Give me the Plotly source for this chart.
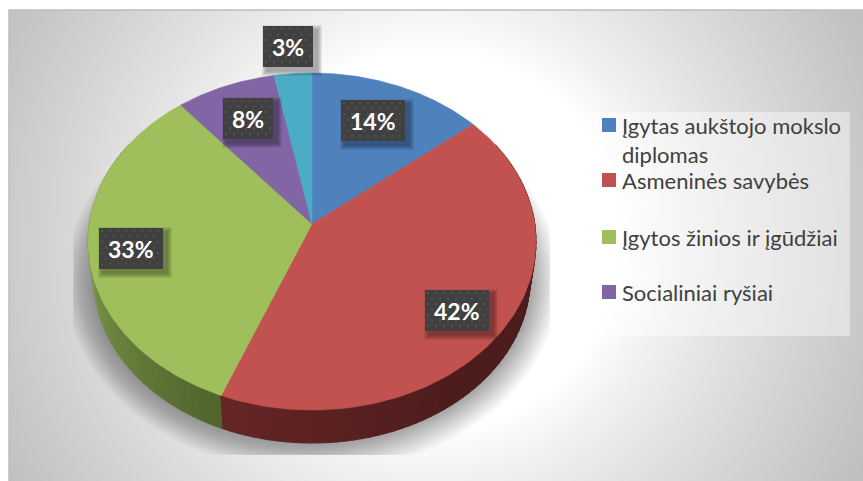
import numpy as np
import plotly.graph_objects as go

# chart values
categories = ["Įgytas aukštojo mokslo<br>diplomas", "Asmeninės savybės", "Įgytos žinios ir įgūdžiai", "Socialiniai ryšiai"]
values = [14, 42, 33, 8, 3]
percent_labels = ["14%", "42%", "33%", "8%", "3%"]

# styles and placement
slice_colors = ["#4f81bd", "#c25250", "#9fbe5c", "#8265a4", "#4bacc6"]
label_boxes = [(341, 405, 100, 141), (425, 489, 290, 331), (99, 163, 228, 269), (223, 273, 98, 139), (263, 313, 26, 67)]
legend_rows = [126, 181, 238, 293]
W, H = 863, 481
APEX_X, APEX_Y = 312, 224
A, B, K = 222.8, 166.7, 0.104  # tilted disc: half axes and perspective
DEPTH_Y, DEPTH_S = 262, 0.973  # lower rim of the disc


def top_rim(deg):
    t = np.radians(deg)
    d = 1 + K * np.cos(t)
    return A * np.sin(t) / d, -B * np.cos(t) / d


def poly(x, y, color, line=0):
    return go.Scatter(x=x, y=y, mode="lines", fill="toself", fillcolor=color,
                      line=dict(color=color, width=line), hoverinfo="skip", showlegend=False)


def rect(x0, x1, y0, y1, color):
    return poly([x0, x1, x1, x0, x0], [y0, y0, y1, y1, y0], color)


def mix(c1, c2, f):
    return "rgb(%d,%d,%d)" % tuple(a + (b - a) * f for a, b in zip(c1, c2))


fig = go.Figure()

# background gradient, cell centres sit half a cell inside the frame
gx = np.arange(12, W + 6, 6)
gy = np.arange(13, H + 6, 6)
xx, yy = np.meshgrid(gx, gy)
rr = np.hypot(xx - 430, yy - 240)
z = 255 - 64 * (np.clip(rr - 190, 0, None) / 300) ** 0.85
fig.add_trace(go.Heatmap(x=gx, y=gy, z=z, zmin=0, zmax=255, zsmooth="best", showscale=False, hoverinfo="skip",
                         colorscale=[[0, "#000000"], [1, "#ffffff"]]))
fig.add_trace(go.Scatter(x=[9, 9, W], y=[H, 10, 10], mode="lines", line=dict(color="#bdbdbd", width=1.5),
                         hoverinfo="skip", showlegend=False))

# soft shadow below the disc, cut off by its box
th = np.linspace(0, 2 * np.pi, 181)
for d in range(30, 0, -1):
    sx = np.clip(312 + (218 + d) * np.cos(th), 73, 550)
    sy = np.clip(280 + (163 + d) * np.sin(th), 0, 455)
    fig.add_trace(poly(sx, sy, "rgba(0,0,0,0.012)"))

# side wall of the disc
edges = np.cumsum([0] + values) * 3.6
for a in np.arange(60, 300, 2.0):
    mid = a + 1
    if mid < edges[2]:
        f = np.clip((edges[2] - mid) / 60, 0, 1)
        col = mix((102, 38, 38), (77, 28, 28), f)
    else:
        f = np.clip((mid - edges[2]) / 68, 0, 1)
        col = mix((80, 100, 44), (130, 158, 80), f)
    ang = np.array([a, a + 2.2])
    tx, ty = top_rim(ang)
    xs = np.r_[APEX_X + tx, APEX_X + DEPTH_S * tx[::-1]]
    ys = np.r_[APEX_Y + ty, DEPTH_Y + DEPTH_S * ty[::-1]]
    fig.add_trace(poly(np.r_[xs, xs[0]], np.r_[ys, ys[0]], col, line=1))

# top of the disc
for i, color in enumerate(slice_colors):
    ang = np.linspace(edges[i], edges[i + 1], 120)
    tx, ty = top_rim(ang)
    fig.add_trace(poly(np.r_[APEX_X, APEX_X + tx, APEX_X], np.r_[APEX_Y, APEX_Y + ty, APEX_Y], color, line=0.5))

# legend panel and swatches
fig.add_trace(rect(594, 850, 112, 336, "rgba(255,255,255,0.42)"))
for row, color in zip(legend_rows, slice_colors):
    fig.add_trace(rect(602, 616, row - 8, row + 6, color))

# data labels: shadow, box, dotted texture
dots_x, dots_y = [], []
for box in label_boxes:
    x0, x1, y0, y1 = box
    for s in range(5, 0, -1):
        fig.add_trace(rect(x0 + 4 - s, x1 + 4 + s, y0 + 4 - s, y1 + 4 + s, "rgba(0,0,0,0.07)"))
    fig.add_trace(rect(x0, x1, y0, y1, "#404040"))
    for r, py in enumerate(np.arange(y0 + 3, y1, 5.5)):
        for px in np.arange(x0 + 3 + (r % 2) * 4, x1 - 1, 8):
            dots_x.append(px)
            dots_y.append(py)
fig.add_trace(go.Scatter(x=dots_x, y=dots_y, mode="markers", hoverinfo="skip", showlegend=False,
                         marker=dict(symbol="square", size=2, color="#535353", line=dict(width=0))))

for box, text in zip(label_boxes, percent_labels):
    fig.add_annotation(x=(box[0] + box[1]) / 2, y=(box[2] + box[3]) / 2, text="<b>%s</b>" % text, showarrow=False,
                       font=dict(family="Lato", size=23, color="white"), xanchor="center", yanchor="middle")

for row, text in zip(legend_rows, categories):
    yrow = row + 13.5 if "<br>" in text else row - 1
    fig.add_annotation(x=620, y=yrow, text=text, showarrow=False, align="left", xanchor="left", yanchor="middle",
                       font=dict(family="Lato", size=22, color="#404040"))

fig.update_layout(width=W, height=H, margin=dict(l=0, r=0, t=0, b=0), paper_bgcolor="white", plot_bgcolor="white",
                  showlegend=False,
                  xaxis=dict(range=[0, W], visible=False, fixedrange=True),
                  yaxis=dict(range=[H, 0], visible=False, fixedrange=True))
# the page's default body margin would push the chart off by 8px
fig.write_html("out.html", config=dict(displayModeBar=False), post_script="document.body.style.margin='0';")
